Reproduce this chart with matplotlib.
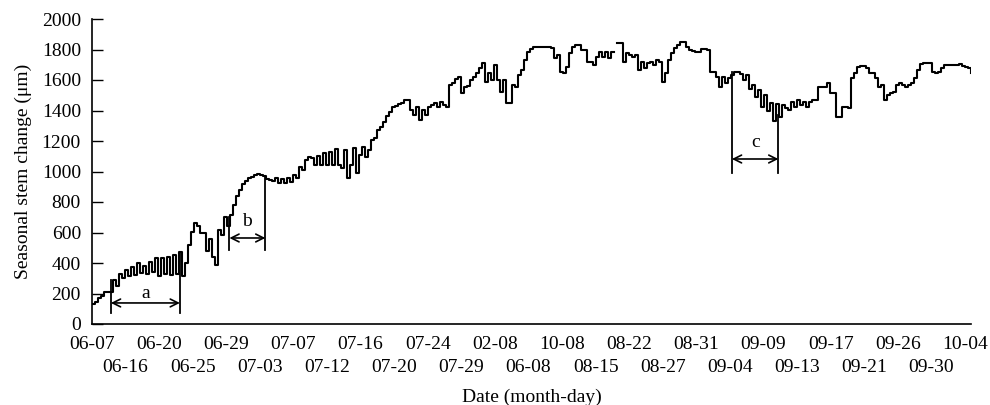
import numpy as np
import matplotlib
matplotlib.use("Agg")
import matplotlib.pyplot as plt

plt.rcParams["font.family"] = ["Liberation Serif", "DejaVu Serif"]

# seasonal stem change (um), one value per time step
stem = [
    130, 146, 168, 183, 212, 212, 212, 288, 250, 330,
    300, 354, 315, 376, 320, 400, 335, 380, 325, 409,
    340, 430, 315, 430, 325, 441, 320, 452, 330, 474,
    315, 400, 520, 605, 660, 640, 600, 600, 480, 560,
    440, 390, 616, 583, 704, 640, 715, 780, 840, 880,
    920, 940, 955, 965, 977, 983, 975, 970, 950, 945,
    935, 955, 927, 948, 922, 955, 933, 977, 955, 1032,
    1010, 1075, 1093, 1086, 1040, 1101, 1040, 1119, 1040, 1130,
    1040, 1145, 1042, 1021, 1141, 960, 1042, 1152, 990, 1108,
    1163, 1097, 1141, 1206, 1217, 1272, 1294, 1327, 1364, 1392,
    1425, 1432, 1440, 1447, 1469, 1469, 1403, 1370, 1425, 1338,
    1403, 1370, 1425, 1436, 1447, 1425, 1458, 1436, 1425, 1567,
    1578, 1604, 1617, 1512, 1556, 1560, 1600, 1622, 1644, 1676,
    1709, 1589, 1644, 1600, 1698, 1600, 1523, 1600, 1447, 1447,
    1567, 1556, 1633, 1665, 1731, 1786, 1801, 1814, 1814, 1814,
    1814, 1814, 1814, 1808, 1742, 1764, 1654, 1644, 1687, 1775,
    1818, 1829, 1829, 1797, 1797, 1720, 1720, 1698, 1753, 1786,
    1753, 1786, 1742, 1786, np.nan, 1845, 1845, 1720, 1775, 1764,
    1753, 1764, 1665, 1720, 1676, 1709, 1720, 1698, 1731, 1720,
    1589, 1644, 1731, 1775, 1808, 1829, 1851, 1851, 1818, 1797,
    1792, 1786, 1786, 1801, 1801, 1797, 1655, 1655, 1622, 1556,
    1622, 1578, 1611, 1633, 1655, 1655, 1640, 1600, 1633, 1540,
    1570, 1490, 1534, 1420, 1500, 1400, 1447, 1330, 1440, 1360,
    1436, 1414, 1403, 1458, 1425, 1469, 1436, 1458, 1425, 1458,
    1469, 1469, 1556, 1556, 1556, 1578, 1512, 1512, 1359, 1359,
    1425, 1425, 1414, 1611, 1644, 1683, 1692, 1692, 1676, 1644,
    1644, 1611, 1556, 1567, 1469, 1501, 1512, 1523, 1567, 1578,
    1567, 1552, 1567, 1578, 1611, 1665, 1705, 1709, 1709, 1709,
    1655, 1644, 1655, 1676, 1698, 1698, 1698, 1698, 1698, 1705,
    1692, 1683, 1676, 1644,
]

# date labels as printed (alternating upper / lower row)
dates = ["06-07", "06-16", "06-20", "06-25", "06-29", "07-03", "07-07", "07-12",
         "07-16", "07-20", "07-24", "07-29", "02-08", "06-08", "10-08", "08-15",
         "08-22", "08-27", "08-31", "09-04", "09-09", "09-13", "09-17", "09-21",
         "09-26", "09-30", "10-04"]

# marked periods: label, start, end (time step), bottom, top at start, top at end, arrow level, label level
periods = [("a", 6.3, 29.3, 72, 290, 470, 138, 203),
           ("b", 45.8, 57.8, 485, 700, 963, 564, 669),
           ("c", 213.3, 228.8, 987, 1655, 1370, 1082, 1193)]

t = np.arange(len(stem))
fig = plt.figure(figsize=(9.9, 4.05), dpi=100)
ax = fig.add_axes([92 / 990, 81 / 405, 879 / 990, 305 / 405])
ax.plot(t, stem, color="black", lw=1.5, drawstyle="steps-post")

for name, x0, x1, yb, yt0, yt1, ya, yl in periods:
    ax.plot([x0, x0], [yb, yt0], color="black", lw=1.3)
    ax.plot([x1, x1], [yb, yt1], color="black", lw=1.3)
    ax.annotate("", xy=(x0, ya), xytext=(x1, ya),
                arrowprops=dict(arrowstyle="<->", lw=1.2, color="black",
                                shrinkA=0, shrinkB=0, mutation_scale=14))
    ax.text((x0 + x1) / 2, yl, name, ha="center", va="center", fontsize=14)

ax.set_xlim(0, len(stem) - 1)
ax.set_ylim(0, 2000)
ax.set_yticks(np.arange(0, 2001, 200))
pos = np.linspace(0, 291, len(dates))
ax.set_xticks(pos[::2])
ax.set_xticklabels(dates[::2])
ax.set_xticks(pos[1::2], minor=True)
ax.set_xticklabels(dates[1::2], minor=True)
ax.tick_params(axis="x", which="major", length=0, pad=8.5, labelsize=14)
ax.tick_params(axis="x", which="minor", length=0, pad=25, labelsize=14)
ax.tick_params(axis="y", direction="in", length=8, width=1, pad=8, labelsize=14)
for s in ("top", "right"):
    ax.spines[s].set_visible(False)
for s in ("left", "bottom"):
    ax.spines[s].set_linewidth(1.2)
ax.set_xlabel("Date (month-day)", fontsize=14, labelpad=9)
ax.set_ylabel("Seasonal stem change (μm)", fontsize=14, labelpad=7)

fig.savefig("out.png", dpi=100)
